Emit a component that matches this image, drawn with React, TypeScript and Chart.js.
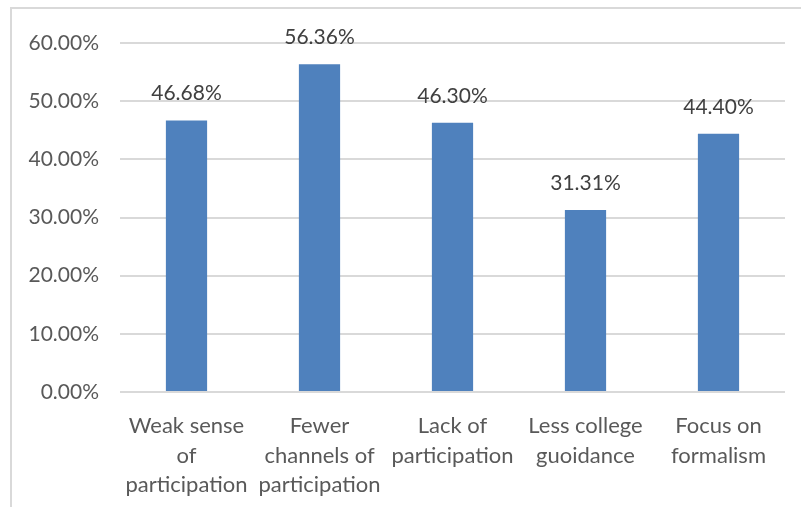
import React, { useEffect, useRef } from "react";
import { Chart, registerables } from "chart.js";

Chart.register(...registerables);

const categories: string[][] = [
  ["Weak sense", "of", "participation"],
  ["Fewer", "channels of", "participation"],
  ["Lack of", "participation"],
  ["Less college", "guoidance"],
  ["Focus on", "formalism"],
];
const shares: number[] = [46.68, 56.36, 46.3, 31.31, 44.4];
const yTicks: number[] = [0, 10, 20, 30, 40, 50, 60];

const FONT = "Lato, 'Open Sans', sans-serif";
const TEXT = "#595959";
const pct = (v: number) => v.toFixed(2) + "%";

// Writes each bar's value above it
const valueLabels = {
  id: "valueLabels",
  afterDatasetsDraw(chart: any) {
    const ctx = chart.ctx;
    const meta = chart.getDatasetMeta(0);
    ctx.save();
    ctx.font = `21px ${FONT}`;
    ctx.fillStyle = "#404040";
    ctx.textAlign = "center";
    ctx.textBaseline = "alphabetic";
    meta.data.forEach((bar: any, i: number) => {
      ctx.fillText(pct(shares[i]), bar.x, bar.y - 20);
    });
    ctx.restore();
  },
};

// Light frame around the chart
const frame = {
  id: "frame",
  beforeDraw(chart: any) {
    const ctx = chart.ctx;
    ctx.save();
    ctx.strokeStyle = "#d9d9d9";
    ctx.lineWidth = 2;
    ctx.strokeRect(11, 8, chart.width + 20, chart.height + 20);
    ctx.restore();
  },
};

export default function App() {
  const ref = useRef<HTMLCanvasElement>(null);

  useEffect(() => {
    document.body.style.margin = "0";
    const canvas = ref.current;
    if (!canvas) return;
    const chart = new Chart(canvas, {
      type: "bar",
      data: {
        labels: categories,
        datasets: [
          {
            data: shares,
            backgroundColor: "#4f81bd",
            categoryPercentage: 1,
            barPercentage: 0.31,
          },
        ],
      },
      options: {
        responsive: false,
        animation: false,
        layout: { padding: { top: 43, right: 16, left: 0, bottom: 0 } },
        plugins: { legend: { display: false }, tooltip: { enabled: false } },
        scales: {
          x: {
            grid: { display: false },
            border: { display: false },
            ticks: {
              color: TEXT,
              font: { family: FONT, size: 22, lineHeight: 1.35 },
              padding: 11,
              maxRotation: 0,
              autoSkip: false,
            },
            afterFit(scale: any) {
              scale.height = 115;
            },
          },
          y: {
            min: 0,
            max: 60,
            afterBuildTicks(scale: any) {
              scale.ticks = yTicks.map((v) => ({ value: v }));
            },
            grid: { color: "#d9d9d9", lineWidth: 2, drawTicks: false },
            border: { display: false },
            ticks: {
              color: TEXT,
              font: { family: FONT, size: 21 },
              padding: 21,
              callback: (v: any) => pct(Number(v)),
            },
            afterFit(scale: any) {
              scale.width = 120;
            },
          },
        },
      },
      plugins: [frame, valueLabels],
    });
    return () => chart.destroy();
  }, []);

  return <canvas ref={ref} width={801} height={507} style={{ display: "block" }} />;
}
